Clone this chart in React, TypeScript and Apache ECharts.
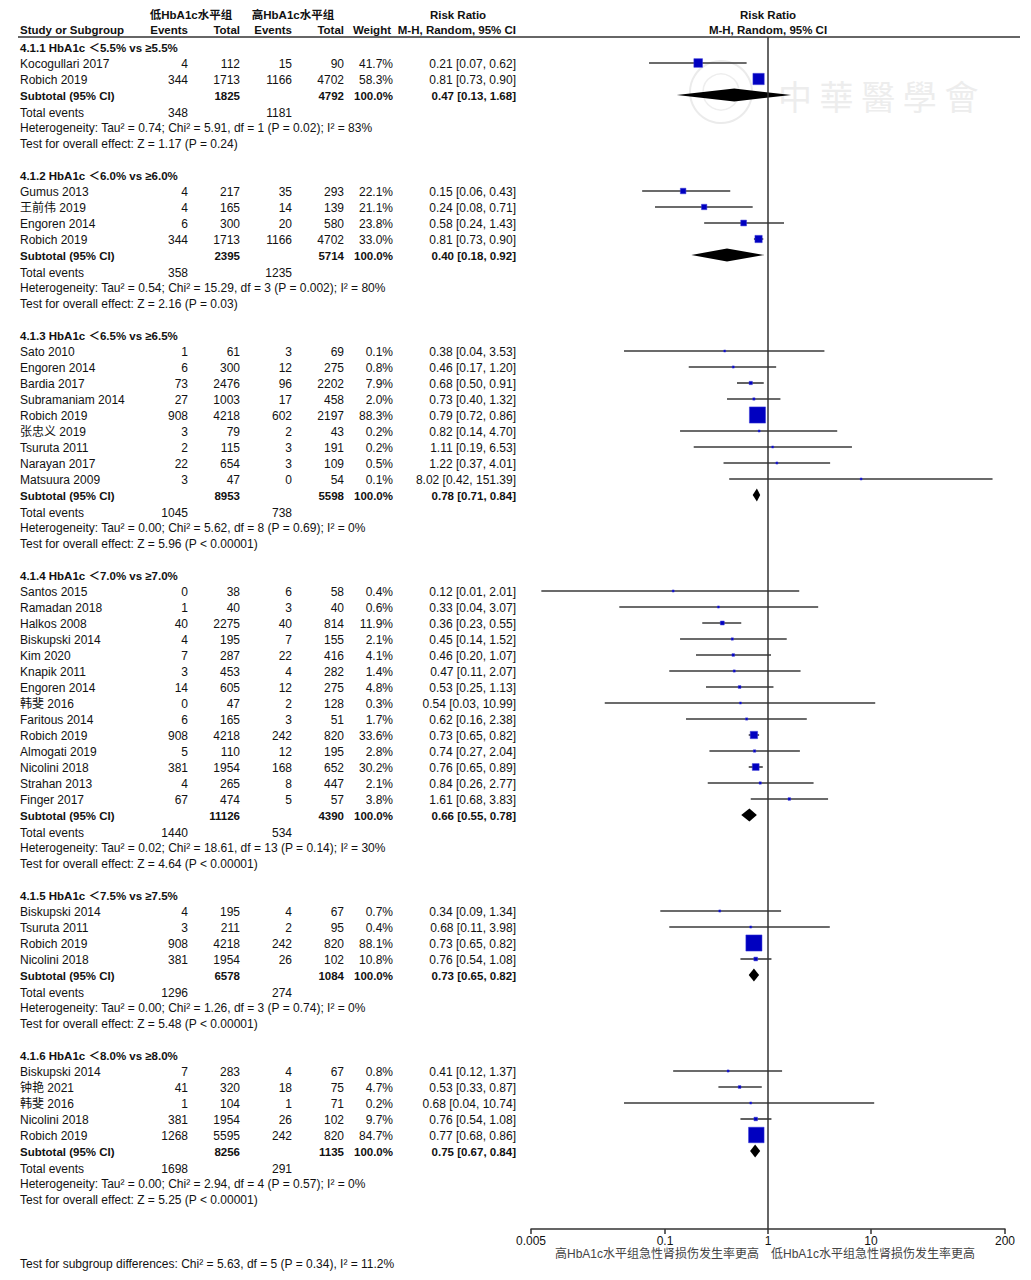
import React, { useEffect, useRef } from "react";
import * as echarts from "echarts";

// name, events(low), total(low), events(high), total(high), weight %, RR, lower, upper
type Study = [string, number, number, number, number, number, number, number, number];

const groupTitles = [
  "4.1.1 HbA1c ＜5.5% vs ≥5.5%",
  "4.1.2 HbA1c ＜6.0% vs ≥6.0%",
  "4.1.3 HbA1c ＜6.5% vs ≥6.5%",
  "4.1.4 HbA1c ＜7.0% vs ≥7.0%",
  "4.1.5 HbA1c ＜7.5% vs ≥7.5%",
  "4.1.6 HbA1c ＜8.0% vs ≥8.0%",
];

const g1Studies: Study[] = [
  ["Kocogullari 2017", 4, 112, 15, 90, 41.7, 0.21, 0.07, 0.62],
  ["Robich 2019", 344, 1713, 1166, 4702, 58.3, 0.81, 0.73, 0.9],
];
const g2Studies: Study[] = [
  ["Gumus 2013", 4, 217, 35, 293, 22.1, 0.15, 0.06, 0.43],
  ["王前伟 2019", 4, 165, 14, 139, 21.1, 0.24, 0.08, 0.71],
  ["Engoren 2014", 6, 300, 20, 580, 23.8, 0.58, 0.24, 1.43],
  ["Robich 2019", 344, 1713, 1166, 4702, 33.0, 0.81, 0.73, 0.9],
];
const g3Studies: Study[] = [
  ["Sato 2010", 1, 61, 3, 69, 0.1, 0.38, 0.04, 3.53],
  ["Engoren 2014", 6, 300, 12, 275, 0.8, 0.46, 0.17, 1.2],
  ["Bardia 2017", 73, 2476, 96, 2202, 7.9, 0.68, 0.5, 0.91],
  ["Subramaniam 2014", 27, 1003, 17, 458, 2.0, 0.73, 0.4, 1.32],
  ["Robich 2019", 908, 4218, 602, 2197, 88.3, 0.79, 0.72, 0.86],
  ["张忠义 2019", 3, 79, 2, 43, 0.2, 0.82, 0.14, 4.7],
  ["Tsuruta 2011", 2, 115, 3, 191, 0.2, 1.11, 0.19, 6.53],
  ["Narayan 2017", 22, 654, 3, 109, 0.5, 1.22, 0.37, 4.01],
  ["Matsuura 2009", 3, 47, 0, 54, 0.1, 8.02, 0.42, 151.39],
];
const g4Studies: Study[] = [
  ["Santos 2015", 0, 38, 6, 58, 0.4, 0.12, 0.0063, 2.01],
  ["Ramadan 2018", 1, 40, 3, 40, 0.6, 0.33, 0.036, 3.07],
  ["Halkos 2008", 40, 2275, 40, 814, 11.9, 0.36, 0.23, 0.55],
  ["Biskupski 2014", 4, 195, 7, 155, 2.1, 0.45, 0.14, 1.52],
  ["Kim 2020", 7, 287, 22, 416, 4.1, 0.46, 0.2, 1.07],
  ["Knapik 2011", 3, 453, 4, 282, 1.4, 0.47, 0.11, 2.07],
  ["Engoren 2014", 14, 605, 12, 275, 4.8, 0.53, 0.25, 1.13],
  ["韩斐 2016", 0, 47, 2, 128, 0.3, 0.54, 0.026, 10.99],
  ["Faritous 2014", 6, 165, 3, 51, 1.7, 0.62, 0.16, 2.38],
  ["Robich 2019", 908, 4218, 242, 820, 33.6, 0.73, 0.65, 0.82],
  ["Almogati 2019", 5, 110, 12, 195, 2.8, 0.74, 0.27, 2.04],
  ["Nicolini 2018", 381, 1954, 168, 652, 30.2, 0.76, 0.65, 0.89],
  ["Strahan 2013", 4, 265, 8, 447, 2.1, 0.84, 0.26, 2.77],
  ["Finger 2017", 67, 474, 5, 57, 3.8, 1.61, 0.68, 3.83],
];
const g5Studies: Study[] = [
  ["Biskupski 2014", 4, 195, 4, 67, 0.7, 0.34, 0.09, 1.34],
  ["Tsuruta 2011", 3, 211, 2, 95, 0.4, 0.68, 0.11, 3.98],
  ["Robich 2019", 908, 4218, 242, 820, 88.1, 0.73, 0.65, 0.82],
  ["Nicolini 2018", 381, 1954, 26, 102, 10.8, 0.76, 0.54, 1.08],
];
const g6Studies: Study[] = [
  ["Biskupski 2014", 7, 283, 4, 67, 0.8, 0.41, 0.12, 1.37],
  ["钟艳 2021", 41, 320, 18, 75, 4.7, 0.53, 0.33, 0.87],
  ["韩斐 2016", 1, 104, 1, 71, 0.2, 0.68, 0.04, 10.74],
  ["Nicolini 2018", 381, 1954, 26, 102, 9.7, 0.76, 0.54, 1.08],
  ["Robich 2019", 1268, 5595, 242, 820, 84.7, 0.77, 0.68, 0.86],
];

// total(low), total(high), RR, lower, upper
const subtotals: [number, number, number, number, number][] = [
  [1825, 4792, 0.47, 0.13, 1.68],
  [2395, 5714, 0.4, 0.18, 0.92],
  [8953, 5598, 0.78, 0.71, 0.84],
  [11126, 4390, 0.66, 0.55, 0.78],
  [6578, 1084, 0.73, 0.65, 0.82],
  [8256, 1135, 0.75, 0.67, 0.84],
];
const totalEvents: [number, number][] = [
  [348, 1181],
  [358, 1235],
  [1045, 738],
  [1440, 534],
  [1296, 274],
  [1698, 291],
];
const heterogeneity = [
  "Heterogeneity: Tau² = 0.74; Chi² = 5.91, df = 1 (P = 0.02); I² = 83%",
  "Heterogeneity: Tau² = 0.54; Chi² = 15.29, df = 3 (P = 0.002); I² = 80%",
  "Heterogeneity: Tau² = 0.00; Chi² = 5.62, df = 8 (P = 0.69); I² = 0%",
  "Heterogeneity: Tau² = 0.02; Chi² = 18.61, df = 13 (P = 0.14); I² = 30%",
  "Heterogeneity: Tau² = 0.00; Chi² = 1.26, df = 3 (P = 0.74); I² = 0%",
  "Heterogeneity: Tau² = 0.00; Chi² = 2.94, df = 4 (P = 0.57); I² = 0%",
];
const overallEffect = [
  "Test for overall effect: Z = 1.17 (P = 0.24)",
  "Test for overall effect: Z = 2.16 (P = 0.03)",
  "Test for overall effect: Z = 5.96 (P < 0.00001)",
  "Test for overall effect: Z = 4.64 (P < 0.00001)",
  "Test for overall effect: Z = 5.48 (P < 0.00001)",
  "Test for overall effect: Z = 5.25 (P < 0.00001)",
];
const subgroupTest = "Test for subgroup differences: Chi² = 5.63, df = 5 (P = 0.34), I² = 11.2%";

const tickValues = [0.005, 0.1, 1, 10, 200];
const tickLabels = ["0.005", "0.1", "1", "10", "200"];
const favoursLeft = "高HbA1c水平组急性肾损伤发生率更高";
const favoursRight = "低HbA1c水平组急性肾损伤发生率更高";
const groupLowLabel = "低HbA1c水平组";
const groupHighLabel = "高HbA1c水平组";

const allStudies = [g1Studies, g2Studies, g3Studies, g4Studies, g5Studies, g6Studies];

// ---- layout constants (pixels) ----
const W = 1031;
const H = 1280;
const ROW0_Y = 47;
const ROW_H = 16;
const TEXT_DY = 1;
const HEAD_ROW1 = -2.06;
const HEAD_ROW2 = -1.1;
const COL = { study: 20, evL: 188, totL: 240, evH: 292, totH: 344, weight: 393, rr: 516 };
const PLOT_TOP = 37;
const PLOT_BOTTOM = 1229;
const PLOT_LEFT = 531;
const PLOT_W = 474;
const FONT = "'Liberation Sans', Arial, 'Noto Sans CJK SC', sans-serif";

type TextItem = { x: number; row: number; text: string; align: string; bold?: boolean; color?: string };

const fmtCI = (rr: number, lo: number, hi: number) =>
  `${rr.toFixed(2)} [${lo.toFixed(2)}, ${hi.toFixed(2)}]`;

function buildLayout() {
  const texts: TextItem[] = [];
  const studyMarks: number[][] = [];
  const diamonds: number[][] = [];
  // column headers
  texts.push({ x: 191, row: HEAD_ROW1, text: groupLowLabel, align: "center", bold: true });
  texts.push({ x: 293, row: HEAD_ROW1, text: groupHighLabel, align: "center", bold: true });
  texts.push({ x: 458, row: HEAD_ROW1, text: "Risk Ratio", align: "center", bold: true });
  texts.push({ x: COL.study, row: HEAD_ROW2, text: "Study or Subgroup", align: "left", bold: true });
  texts.push({ x: COL.evL, row: HEAD_ROW2, text: "Events", align: "right", bold: true });
  texts.push({ x: COL.totL, row: HEAD_ROW2, text: "Total", align: "right", bold: true });
  texts.push({ x: COL.evH, row: HEAD_ROW2, text: "Events", align: "right", bold: true });
  texts.push({ x: COL.totH, row: HEAD_ROW2, text: "Total", align: "right", bold: true });
  texts.push({ x: 391, row: HEAD_ROW2, text: "Weight", align: "right", bold: true });
  texts.push({ x: COL.rr, row: HEAD_ROW2, text: "M-H, Random, 95% CI", align: "right", bold: true });
  texts.push({ x: 768, row: HEAD_ROW1, text: "Risk Ratio", align: "center", bold: true });
  texts.push({ x: 768, row: HEAD_ROW2, text: "M-H, Random, 95% CI", align: "center", bold: true });

  let r = 0;
  allStudies.forEach((studies, g) => {
    texts.push({ x: COL.study, row: r, text: groupTitles[g], align: "left", bold: true });
    r++;
    studies.forEach((s) => {
      const [name, eL, nL, eH, nH, w, rr, lo, hi] = s;
      texts.push({ x: COL.study, row: r, text: name, align: "left" });
      texts.push({ x: COL.evL, row: r, text: String(eL), align: "right" });
      texts.push({ x: COL.totL, row: r, text: String(nL), align: "right" });
      texts.push({ x: COL.evH, row: r, text: String(eH), align: "right" });
      texts.push({ x: COL.totH, row: r, text: String(nH), align: "right" });
      texts.push({ x: COL.weight, row: r, text: `${w.toFixed(1)}%`, align: "right" });
      texts.push({ x: COL.rr, row: r, text: fmtCI(rr, lo, hi), align: "right" });
      studyMarks.push([Math.log10(rr), r, Math.log10(lo), Math.log10(hi), w]);
      r++;
    });
    const [nL, nH, rr, lo, hi] = subtotals[g];
    texts.push({ x: COL.study, row: r, text: "Subtotal (95% CI)", align: "left", bold: true });
    texts.push({ x: COL.totL, row: r, text: String(nL), align: "right", bold: true });
    texts.push({ x: COL.totH, row: r, text: String(nH), align: "right", bold: true });
    texts.push({ x: COL.weight, row: r, text: "100.0%", align: "right", bold: true });
    texts.push({ x: COL.rr, row: r, text: fmtCI(rr, lo, hi), align: "right", bold: true });
    diamonds.push([Math.log10(rr), r, Math.log10(lo), Math.log10(hi)]);
    r++;
    texts.push({ x: COL.study, row: r + 0.06, text: "Total events", align: "left" });
    texts.push({ x: COL.evL, row: r + 0.06, text: String(totalEvents[g][0]), align: "right" });
    texts.push({ x: COL.evH, row: r + 0.06, text: String(totalEvents[g][1]), align: "right" });
    r++;
    texts.push({ x: COL.study, row: r, text: heterogeneity[g], align: "left" });
    r++;
    texts.push({ x: COL.study, row: r, text: overallEffect[g], align: "left" });
    r++;
    r++; // blank row
  });
  // below the axis
  texts.push({ x: 759, row: 75.4, text: favoursLeft, align: "right", color: "#444" });
  texts.push({ x: 771, row: 75.4, text: favoursRight, align: "left", color: "#444" });
  texts.push({ x: COL.study, row: 76, text: subgroupTest, align: "left" });
  return { texts, studyMarks, diamonds };
}

export default function App() {
  const ref = useRef<HTMLDivElement>(null);
  useEffect(() => {
    if (!ref.current) return;
    const chart = echarts.init(ref.current, undefined, { renderer: "svg" });
    const { texts, studyMarks, diamonds } = buildLayout();
    const rowMin = (PLOT_TOP - ROW0_Y) / ROW_H;
    const rowMax = (PLOT_BOTTOM - ROW0_Y) / ROW_H;
    const pageRowMin = -ROW0_Y / ROW_H;
    const pageRowMax = (H - ROW0_Y) / ROW_H;
    const logTicks = tickValues.map((v) => Math.log10(v));

    chart.setOption({
      animation: false,
      backgroundColor: "#fff",
      grid: [
        { left: 0, top: 0, width: W, height: H },
        { left: PLOT_LEFT, top: PLOT_TOP, width: PLOT_W, height: PLOT_BOTTOM - PLOT_TOP },
      ],
      xAxis: [
        { type: "value", gridIndex: 0, min: 0, max: W, show: false },
        {
          type: "value",
          gridIndex: 1,
          min: Math.log10(tickValues[0]),
          max: Math.log10(tickValues[tickValues.length - 1]),
          splitLine: { show: false },
          axisLine: { show: true, onZero: false, lineStyle: { color: "#333", width: 1.5 } },
          axisTick: {
            show: true,
            length: 5,
            customValues: logTicks,
            lineStyle: { color: "#333", width: 1.5 },
          },
          axisLabel: {
            customValues: logTicks,
            margin: 6,
            color: "#111",
            fontSize: 12,
            fontFamily: FONT,
            formatter: (v: number) => {
              const i = logTicks.findIndex((t) => Math.abs(t - v) < 1e-6);
              return i >= 0 ? tickLabels[i] : "";
            },
          },
        },
      ],
      yAxis: [
        { type: "value", gridIndex: 0, min: pageRowMin, max: pageRowMax, inverse: true, show: false },
        { type: "value", gridIndex: 1, min: rowMin, max: rowMax, inverse: true, show: false },
      ],
      graphic: [
        {
          type: "line",
          z: 5,
          shape: { x1: 18, y1: PLOT_TOP, x2: 1020, y2: PLOT_TOP },
          style: { stroke: "#333", lineWidth: 1.5 },
        },
        {
          type: "circle",
          z: 0,
          shape: { cx: 721, cy: 92, r: 31 },
          style: { fill: "none", stroke: "#ebebeb", lineWidth: 2 },
        },
        {
          type: "circle",
          z: 0,
          shape: { cx: 721, cy: 92, r: 18 },
          style: { fill: "none", stroke: "#eeeeee", lineWidth: 1.5 },
        },
        {
          type: "text",
          z: 0,
          x: 778,
          y: 95,
          style: {
            text: "中 華 醫 學 會",
            font: "34px 'Noto Sans CJK TC'",
            fill: "#ededed",
            verticalAlign: "middle",
            align: "left",
          },
        },
      ],
      series: [
        {
          type: "custom",
          name: "table",
          xAxisIndex: 0,
          yAxisIndex: 0,
          z: 4,
          silent: true,
          data: texts.map((t) => [t.x, t.row]),
          renderItem: (params: any, api: any) => {
            const t = texts[params.dataIndex];
            const p = api.coord([api.value(0), api.value(1)]);
            return {
              type: "text",
              x: p[0],
              y: p[1] + TEXT_DY,
              style: {
                text: t.text,
                fill: t.color || "#111",
                fontSize: t.bold ? 11.5 : 12,
                fontFamily: FONT,
                fontWeight: t.bold ? "bold" : "normal",
                align: t.align,
                verticalAlign: "middle",
              },
            };
          },
        },
        {
          type: "custom",
          name: "studies",
          xAxisIndex: 1,
          yAxisIndex: 1,
          z: 3,
          silent: true,
          encode: { x: [0, 2, 3], y: 1 },
          data: studyMarks,
          renderItem: (params: any, api: any) => {
            const c = api.coord([api.value(0), api.value(1)]);
            const l = api.coord([api.value(2), api.value(1)]);
            const h = api.coord([api.value(3), api.value(1)]);
            const s = 2 + 0.16 * api.value(4);
            return {
              type: "group",
              children: [
                {
                  type: "line",
                  shape: { x1: l[0], y1: l[1], x2: h[0], y2: h[1] },
                  style: { stroke: "#3a3a3a", lineWidth: 1.6 },
                },
                {
                  type: "rect",
                  shape: { x: c[0] - s / 2, y: c[1] - s / 2, width: s, height: s },
                  style: { fill: "#0000c0", stroke: "#3a3ad8", lineWidth: 0.5 },
                },
              ],
            };
          },
          markLine: {
            silent: true,
            symbol: ["none", "none"],
            label: { show: false },
            lineStyle: { color: "#333", width: 1.5, type: "solid" },
            data: [{ xAxis: 0 }],
          },
        },
        {
          type: "custom",
          name: "subtotals",
          xAxisIndex: 1,
          yAxisIndex: 1,
          z: 3,
          silent: true,
          encode: { x: [0, 2, 3], y: 1 },
          data: diamonds,
          renderItem: (params: any, api: any) => {
            const c = api.coord([api.value(0), api.value(1)]);
            const l = api.coord([api.value(2), api.value(1)]);
            const h = api.coord([api.value(3), api.value(1)]);
            const hh = 6.5;
            return {
              type: "polygon",
              shape: {
                points: [
                  [l[0], c[1]],
                  [c[0], c[1] - hh],
                  [h[0], c[1]],
                  [c[0], c[1] + hh],
                ],
              },
              style: { fill: "#000" },
            };
          },
        },
      ],
    });
    return () => chart.dispose();
  }, []);
  return (
    <div
      ref={ref}
      style={{ position: "absolute", left: 0, top: 0, width: W, height: H, background: "#fff" }}
    />
  );
}
